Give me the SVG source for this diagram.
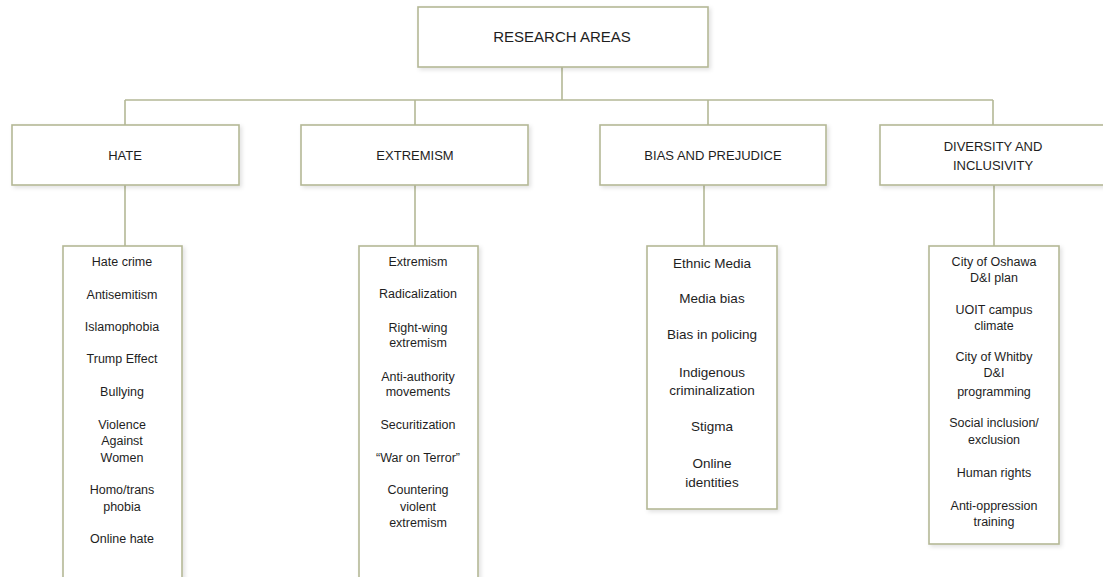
<svg xmlns="http://www.w3.org/2000/svg" width="1103" height="577" viewBox="0 0 1103 577">
  <defs>
    <filter id="sh" x="-10%" y="-10%" width="130%" height="130%">
      <feDropShadow dx="2" dy="2" stdDeviation="2" flood-color="#000" flood-opacity="0.12"/>
    </filter>
    <style>
      .box { fill: #ffffff; stroke: #b4b896; stroke-width: 1.6; filter: url(#sh); }
      .conn { stroke: #b4b896; stroke-width: 1.6; fill: none; }
      text { font-family: "Liberation Sans", Arial, sans-serif; fill: #1e1e1e; text-anchor: middle; }
      .title { font-size: 15px; }
      .cat { font-size: 13px; }
      .item { font-size: 12.5px; }
      .item2 { font-size: 13.5px; }
    </style>
  </defs>
  <rect width="1103" height="577" fill="#ffffff"/>

  <g id="connectors">
    <path class="conn" d="M562 67 V100 M125 100 H993 M125 100 V125 M415 100 V125 M708 100 V125 M993 100 V125"/>
    <path class="conn" d="M125 185 V246 M415 185 V246 M704 185 V246 M994 185 V246"/>
  </g>

  <g id="research-areas">
    <rect class="box" x="418" y="7" width="290" height="60"/>
    <text class="title" x="562" y="42">RESEARCH AREAS</text>
  </g>

  <g id="hate">
    <rect class="box" x="12" y="125" width="227" height="60"/>
    <text class="cat" x="125" y="160">HATE</text>
  </g>
  <g id="extremism">
    <rect class="box" x="301" y="125" width="227" height="60"/>
    <text class="cat" x="415" y="160">EXTREMISM</text>
  </g>
  <g id="bias">
    <rect class="box" x="600" y="125" width="226" height="60"/>
    <text class="cat" x="713" y="160">BIAS AND PREJUDICE</text>
  </g>
  <g id="diversity">
    <rect class="box" x="880" y="125" width="230" height="60"/>
    <text class="cat" x="993" y="151">DIVERSITY AND</text>
    <text class="cat" x="993" y="170">INCLUSIVITY</text>
  </g>

  <g id="hate-list">
    <rect class="box" x="63" y="246" width="119" height="345"/>
    <g class="item">
      <text x="122" y="266">Hate crime</text>
      <text x="122" y="299">Antisemitism</text>
      <text x="122" y="331">Islamophobia</text>
      <text x="122" y="363">Trump Effect</text>
      <text x="122" y="396">Bullying</text>
      <text x="122" y="429">Violence</text>
      <text x="122" y="445">Against</text>
      <text x="122" y="462">Women</text>
      <text x="122" y="494">Homo/trans</text>
      <text x="122" y="511">phobia</text>
      <text x="122" y="543">Online hate</text>
    </g>
  </g>

  <g id="extremism-list">
    <rect class="box" x="359" y="246" width="119" height="345"/>
    <g class="item">
      <text x="418" y="266">Extremism</text>
      <text x="418" y="298">Radicalization</text>
      <text x="418" y="332">Right-wing</text>
      <text x="418" y="347">extremism</text>
      <text x="418" y="381">Anti-authority</text>
      <text x="418" y="396">movements</text>
      <text x="418" y="429">Securitization</text>
      <text x="418" y="462">“War on Terror”</text>
      <text x="418" y="494">Countering</text>
      <text x="418" y="511">violent</text>
      <text x="418" y="527">extremism</text>
    </g>
  </g>

  <g id="bias-list">
    <rect class="box" x="647" y="246" width="130" height="263"/>
    <g class="item2">
      <text x="712" y="268">Ethnic Media</text>
      <text x="712" y="303">Media bias</text>
      <text x="712" y="339">Bias in policing</text>
      <text x="712" y="377">Indigenous</text>
      <text x="712" y="395">criminalization</text>
      <text x="712" y="431">Stigma</text>
      <text x="712" y="468">Online</text>
      <text x="712" y="487">identities</text>
    </g>
  </g>

  <g id="diversity-list">
    <rect class="box" x="929" y="246" width="130" height="298"/>
    <g class="item">
      <text x="994" y="266">City of Oshawa</text>
      <text x="994" y="282">D&amp;I plan</text>
      <text x="994" y="314">UOIT campus</text>
      <text x="994" y="330">climate</text>
      <text x="994" y="361">City of Whitby</text>
      <text x="994" y="377">D&amp;I</text>
      <text x="994" y="396">programming</text>
      <text x="994" y="427">Social inclusion/</text>
      <text x="994" y="444">exclusion</text>
      <text x="994" y="477">Human rights</text>
      <text x="994" y="510">Anti-oppression</text>
      <text x="994" y="526">training</text>
    </g>
  </g>
</svg>
